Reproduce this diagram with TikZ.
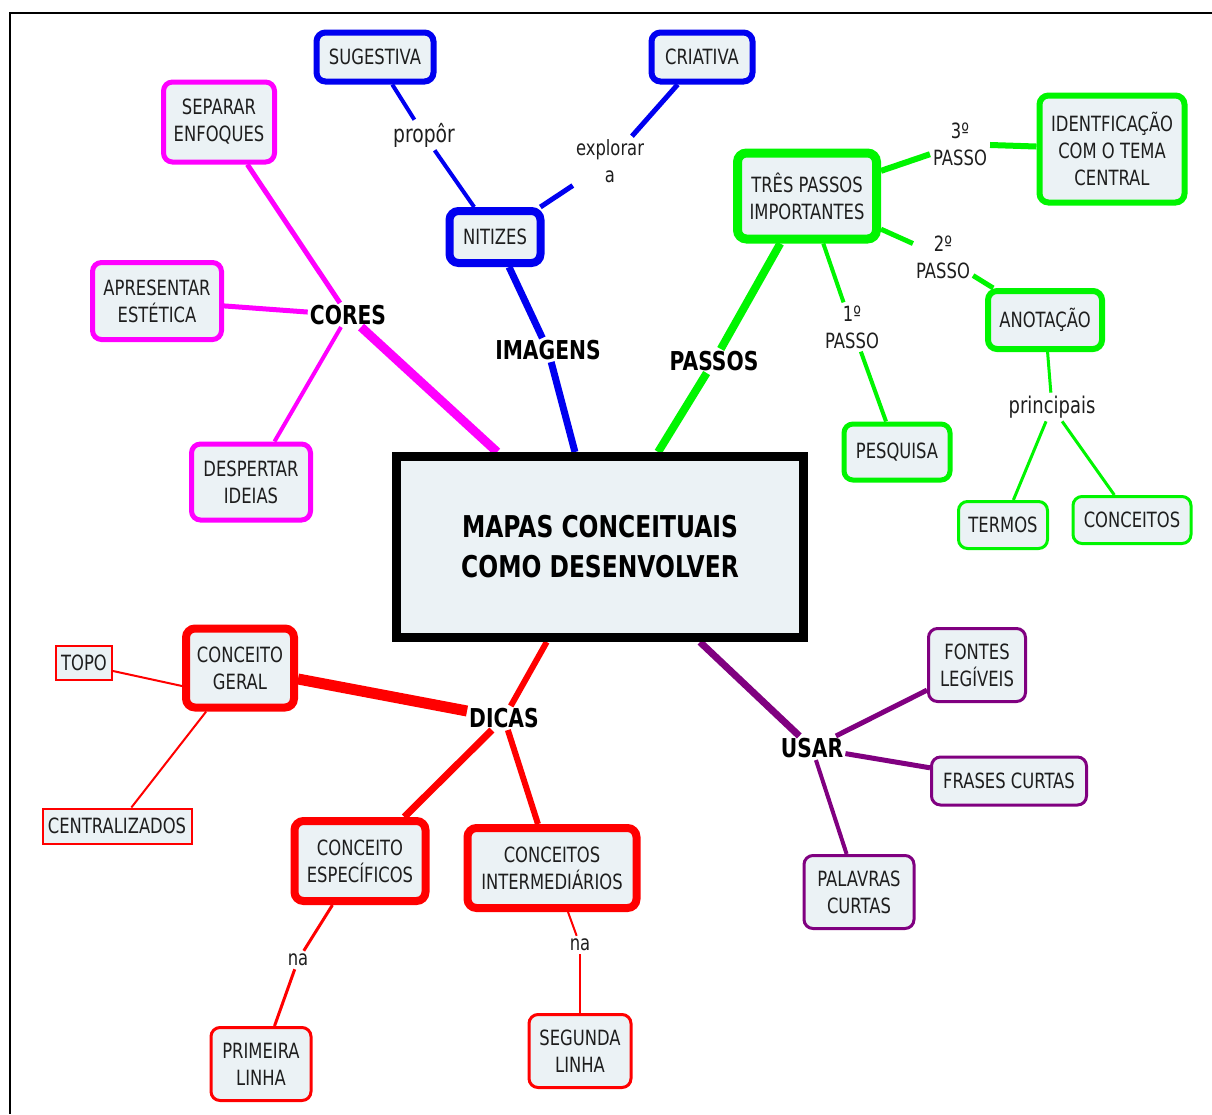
\documentclass[tikz,border=0pt]{standalone}
\usepackage{fontspec}
\setmainfont{DejaVu Sans}[FakeStretch=0.78]
\usetikzlibrary{backgrounds}
\definecolor{fundo}{RGB}{235,242,245}
\definecolor{texto}{RGB}{30,30,30}
\definecolor{rosa}{RGB}{255,0,255}
\definecolor{azul}{RGB}{0,0,240}
\definecolor{verde}{RGB}{0,245,0}
\definecolor{vermelho}{RGB}{255,0,0}
\definecolor{roxo}{RGB}{128,0,128}
\tikzset{
  caixa/.style={draw,rounded corners=9,fill=fundo,align=center,text=texto,
    font=\fontsize{21}{27}\selectfont,inner sep=2pt},
  frase/.style={align=center,text=texto,font=\fontsize{21}{27}\selectfont,inner sep=3pt},
  tema/.style={font=\bfseries\fontsize{26}{30}\selectfont,inner sep=2pt},
}
\begin{document}
\begin{tikzpicture}[x=1pt,y=-1pt]
\useasboundingbox (0,0) rectangle (1212,1114);
\draw[line width=2] (1212,13) -- (10,13) -- (10,1114);

% centro
\node[draw,line width=9,fill=fundo,minimum width=407,minimum height=181,align=center,
  font=\bfseries\fontsize{30}{40}\selectfont] (0) at (600,547) {MAPAS CONCEITUAIS\\COMO DESENVOLVER};

\node[tema] (1) at (348,315) {CORES};
\node[tema] (2) at (548,350) {IMAGENS};
\node[tema] (3) at (714,361) {PASSOS};
\node[tema] (4) at (504,718) {DICAS};
\node[tema] (5) at (812,748) {USAR};

% cores
\node[caixa,draw=rosa,line width=5,minimum width=111,minimum height=80] (6) at (219,122) {SEPARAR\\ENFOQUES};
\node[caixa,draw=rosa,line width=5,minimum width=129,minimum height=77] (7) at (157,301) {APRESENTAR\\ESTÉTICA};
\node[caixa,draw=rosa,line width=5,minimum width=119,minimum height=76] (8) at (251,482) {DESPERTAR\\IDEIAS};

% imagens
\node[caixa,draw=azul,line width=8,minimum width=91,minimum height=52] (9) at (495,237) {NITIZES};
\node[caixa,draw=azul,line width=6,minimum width=117,minimum height=49] (10) at (375,57) {SUGESTIVA};
\node[caixa,draw=azul,line width=6,minimum width=101,minimum height=49] (11) at (702,57) {CRIATIVA};
\node[frase,font=\fontsize{24}{27}\selectfont] (12) at (424,135) {propôr};
\node[frase] (13) at (610,161) {explorar\\a};

% passos
\node[caixa,draw=verde,line width=9,minimum width=139,minimum height=86] (14) at (807,196) {TRÊS PASSOS\\IMPORTANTES};
\node[caixa,draw=verde,line width=6,minimum width=145,minimum height=107] (15) at (1112,149) {IDENTFICAÇÃO\\COM O TEMA\\CENTRAL};
\node[caixa,draw=verde,line width=6,minimum width=114,minimum height=58] (16) at (1045,320) {ANOTAÇÃO};
\node[caixa,draw=verde,line width=5,minimum width=106,minimum height=56] (17) at (897,452) {PESQUISA};
\node[caixa,draw=verde,line width=3,minimum width=89,minimum height=47] (18) at (1003,525) {TERMOS};
\node[caixa,draw=verde,line width=3,minimum width=118,minimum height=47] (19) at (1132,520) {CONCEITOS};
\node[frase] (20) at (960,144) {3º\\PASSO};
\node[frase] (21) at (943,257) {2º\\PASSO};
\node[frase] (22) at (852,327) {1º\\PASSO};
\node[frase,font=\fontsize{23}{27}\selectfont] (23) at (1052,407) {principais};

% dicas
\node[caixa,draw=vermelho,line width=8,minimum width=108,minimum height=79] (24) at (240,668) {CONCEITO\\GERAL};
\node[caixa,draw=vermelho,line width=2,rounded corners=0,minimum width=56,minimum height=34] (25) at (84,663) {TOPO};
\node[caixa,draw=vermelho,line width=2,rounded corners=0,minimum width=149,minimum height=35] (26) at (117,826) {CENTRALIZADOS};
\node[caixa,draw=vermelho,line width=8,minimum width=131,minimum height=80] (27) at (360,861) {CONCEITO\\ESPECÍFICOS};
\node[caixa,draw=vermelho,line width=8,minimum width=169,minimum height=80] (28) at (552,868) {CONCEITOS\\INTERMEDIÁRIOS};
\node[caixa,draw=vermelho,line width=3,minimum width=100,minimum height=73] (29) at (261,1064) {PRIMEIRA\\LINHA};
\node[caixa,draw=vermelho,line width=3,minimum width=102,minimum height=73] (30) at (580,1051) {SEGUNDA\\LINHA};
\node[frase] (31) at (298,960) {na};
\node[frase] (32) at (580,945) {na};

% usar
\node[caixa,draw=roxo,line width=3,minimum width=97,minimum height=73] (33) at (977,665) {FONTES\\LEGÍVEIS};
\node[caixa,draw=roxo,line width=3,minimum width=155,minimum height=48] (34) at (1009,781) {FRASES CURTAS};
\node[caixa,draw=roxo,line width=3,minimum width=110,minimum height=73] (35) at (859,892) {PALAVRAS\\CURTAS};

\begin{scope}[on background layer]
\draw[rosa,line width=9] (0)--(1);
\draw[rosa,line width=5] (1)--(6);
\draw[rosa,line width=5] (1)--(7);
\draw[rosa,line width=4] (1)--(8);

\draw[azul,line width=7] (0)--(2);
\draw[azul,line width=7] (2)--(9);
\draw[azul,line width=4] (9)--(12);
\draw[azul,line width=4] (12)--(10);
\draw[azul,line width=5] (9)--(13);
\draw[azul,line width=5] (13)--(11);

\draw[verde,line width=8] (0)--(3);
\draw[verde,line width=8] (3)--(14);
\draw[verde,line width=6] (14)--(20);
\draw[verde,line width=6] (20)--(15);
\draw[verde,line width=5] (14)--(21);
\draw[verde,line width=5] (21)--(16);
\draw[verde,line width=4] (14)--(22);
\draw[verde,line width=4] (22)--(17);
\draw[verde,line width=3] (16)--(23);
\draw[verde,line width=3] (23)--(18);
\draw[verde,line width=3] (23)--(19);

\draw[vermelho,line width=6] (0)--(4);
\draw[vermelho,line width=11] (4)--(24);
\draw[vermelho,line width=7] (4)--(27);
\draw[vermelho,line width=6] (4)--(28);
\draw[vermelho,line width=2] ([yshift=-8pt]25.east)--([yshift=-18pt]24.west);
\draw[vermelho,line width=2] (24)--(26);
\draw[vermelho,line width=3] (27)--(31);
\draw[vermelho,line width=3] (31)--(29);
\draw[vermelho,line width=2] (28)--(32);
\draw[vermelho,line width=2] (32)--(30);

\draw[roxo,line width=7] (0)--(5);
\draw[roxo,line width=5] (5)--(33);
\draw[roxo,line width=5] (5)--(34);
\draw[roxo,line width=4] (5)--(35);
\end{scope}
\end{tikzpicture}
\end{document}
